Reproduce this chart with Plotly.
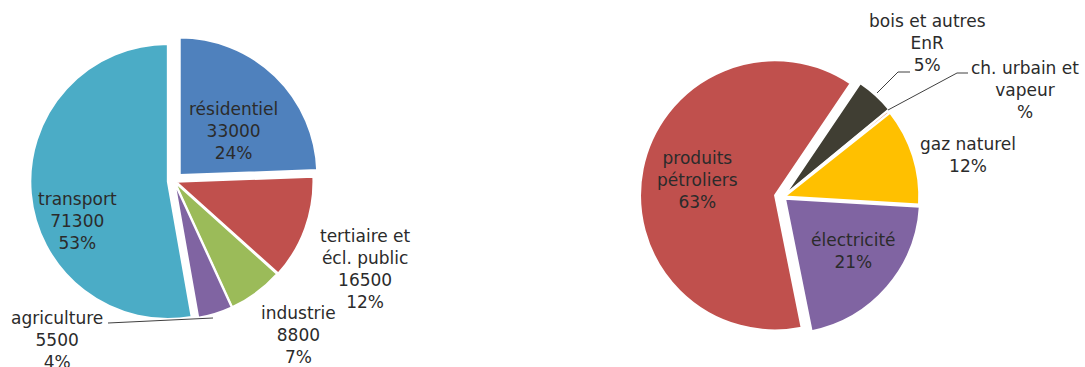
import plotly.graph_objects as go

# ---- data ----
sect_labels = ["résidentiel", "tertiaire et<br>écl. public", "industrie", "agriculture", "transport"]
sect_values = [33000, 16500, 8800, 5500, 71300]
sect_pct = ["24%", "12%", "7%", "4%", "53%"]

nrj_labels = ["bois et autres<br>EnR", "ch. urbain et<br>vapeur", "gaz naturel", "électricité", "produits<br>pétroliers"]
nrj_values = [4.6, 0.3, 11.6, 20.9, 62.6]
nrj_pct = ["5%", "%", "12%", "21%", "63%"]

# ---- styles ----
sect_colors = ["#4F81BD", "#C0504D", "#9BBB59", "#8064A2", "#4BACC6"]
sect_pull = [0.06, 0.015, 0.01, 0.01, 0.045]
nrj_colors = ["#403E33", "#F0A27A", "#FFC000", "#8064A2", "#C0504D"]
nrj_pull = [0.02, 0.0, 0.01, 0.02, 0.06]

W, H = 1085, 367
FONT = "DejaVu Sans"
TXT = "#2b2b2b"

def px(x):
    return x / W

def py(y):
    return 1 - y / H

def domain(cx, cy, r, maxpull):
    half = r * (1 + maxpull)
    return dict(x=[px(cx - half), px(cx + half)], y=[py(cy + half), py(cy - half)])

fig = go.Figure()
fig.add_trace(go.Pie(
    labels=[l.replace("<br>", " ") for l in sect_labels], values=sect_values,
    sort=False, direction="clockwise", rotation=0,
    marker=dict(colors=sect_colors, line=dict(color="white", width=2)),
    pull=sect_pull, textinfo="none", hoverinfo="label+value+percent",
    domain=domain(174, 181, 137.5, max(sect_pull)), showlegend=False,
))
fig.add_trace(go.Pie(
    labels=[l.replace("<br>", " ") for l in nrj_labels], values=nrj_values,
    sort=False, direction="clockwise", rotation=34,
    marker=dict(colors=nrj_colors, line=dict(color="white", width=2)),
    pull=nrj_pull, textinfo="none", hoverinfo="label+percent",
    domain=domain(783, 197, 135, max(nrj_pull)), showlegend=False,
))

# label positions (pixel centers of the middle of each text block)
sect_pos = [(233, 131), (365, 269), (298, 335), (57, 340), (77, 221)]
nrj_pos = [(927, 43), (1025, 90), (968, 155), (853, 251), (697, 180)]

annotations = []
for lab, val, pct, (x, y) in zip(sect_labels, sect_values, sect_pct, sect_pos):
    annotations.append(dict(
        text=f"{lab}<br>{val}<br>{pct}", x=px(x), y=py(y), xref="paper", yref="paper",
        xanchor="center", yanchor="middle", showarrow=False,
        font=dict(family=FONT, size=17, color=TXT), align="center"))
for lab, pct, (x, y) in zip(nrj_labels, nrj_pct, nrj_pos):
    annotations.append(dict(
        text=f"{lab}<br>{pct}", x=px(x), y=py(y), xref="paper", yref="paper",
        xanchor="center", yanchor="middle", showarrow=False,
        font=dict(family=FONT, size=17, color=TXT), align="center"))

def path(points):
    d = "M " + " L ".join(f"{px(a)},{py(b)}" for a, b in points)
    return dict(type="path", path=d, xref="paper", yref="paper",
                line=dict(color="#404040", width=1))

shapes = [
    path([(108, 323), (213, 318)]),
    path([(910, 72), (898, 72), (877, 93)]),
    path([(968, 73), (957, 73), (888, 110)]),
]

fig.update_layout(
    width=W, height=H, margin=dict(l=0, r=0, t=0, b=0),
    paper_bgcolor="white", plot_bgcolor="white",
    annotations=annotations, shapes=shapes,
    font=dict(family=FONT, color=TXT),
)
fig.write_html("out.html")
